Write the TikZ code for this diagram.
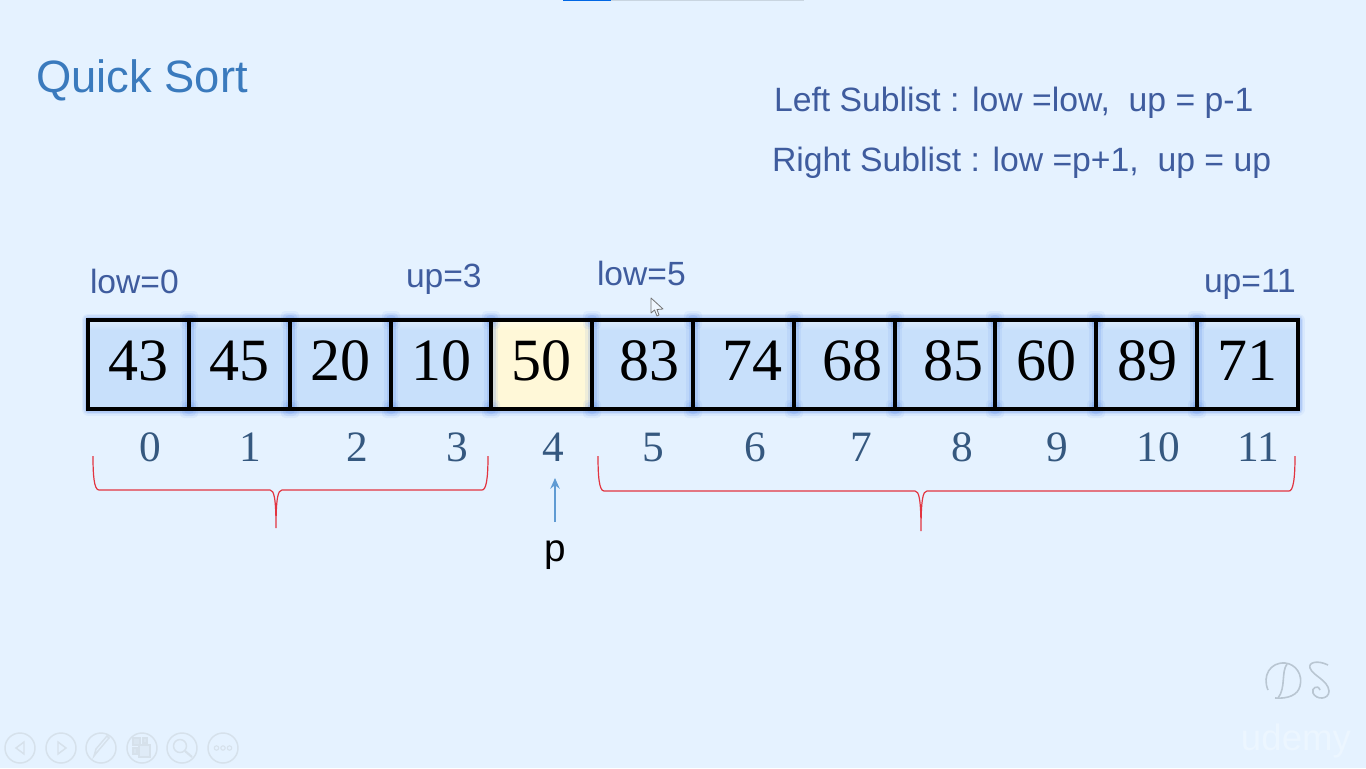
\documentclass[tikz,border=0pt]{standalone}
\usepackage{fontspec}
\usetikzlibrary{arrows.meta}
\setmainfont{Liberation Sans}
\newfontfamily\serifdigits{Liberation Serif}
\definecolor{bgc}{HTML}{E5F2FF}
\definecolor{titlec}{HTML}{3A7ABD}
\definecolor{bluetxt}{HTML}{3F5C9E}
\definecolor{idxc}{HTML}{35587F}
\definecolor{cellc}{HTML}{C8E0FB}
\definecolor{celltop}{HTML}{E0EEFD}
\definecolor{yelc}{HTML}{FFF8D8}
\definecolor{yeltop}{HTML}{FFFCEA}
\definecolor{glowc}{HTML}{3F78E8}
\definecolor{bracec}{HTML}{E23440}
\definecolor{arrowc}{HTML}{5F9BD3}
\definecolor{iconc}{HTML}{D6E1EB}
\definecolor{dsc}{HTML}{B9C6D2}
\definecolor{udc}{HTML}{ECF6FF}
\tikzset{
  x=0.75pt,y=-0.75pt,
  txt/.style={anchor=base west,inner sep=0pt,outer sep=0pt,font=\fontsize{25.3pt}{28pt}\selectfont,text=bluetxt},
  lim/.style={anchor=base west,inner sep=0pt,outer sep=0pt,font=\fontsize{25.2pt}{28pt}\selectfont,text=bluetxt},
  num/.style={anchor=base,inner sep=0pt,outer sep=0pt,font=\serifdigits\fontsize{45pt}{50pt}\selectfont,text=black},
  idx/.style={anchor=base,inner sep=0pt,outer sep=1pt,font=\serifdigits\fontsize{32.5pt}{36pt}\selectfont,text=idxc},
  bracel/.style={draw=bracec,line width=0.9pt},
  icon/.style={draw=iconc,line width=1.1pt},
}
\begin{document}
\begin{tikzpicture}
\useasboundingbox (0,0) rectangle (1366,768);
\fill[bgc] (0,0) rectangle (1366,768);
% progress bar
\fill[black!12!bgc] (611,0) rectangle (804,1);
\fill[blue!55!cyan!90!black] (563,0) rectangle (611,1.2);
% title and text
\node[anchor=base west,inner sep=0pt,font=\fontsize{34pt}{38pt}\selectfont,text=titlec] (title) at (36,92) {Quick Sort};
\node[txt] (ls) at (774,111) {Left Sublist : low =low,\ \ up = p-1};
\node[txt] (rs) at (772,171) {Right Sublist : low =p+1,\ \ up = up};
\node[lim] (l0) at (90,293) {low=0};
\node[lim] (u3) at (406,287) {up=3};
\node[lim] (l5) at (597,285) {low=5};
\node[lim] (u11) at (1204,292) {up=11};
% glow
\foreach \w/\o in {13/.07,10/.10,7/.16,4/.25}{
  \draw[glowc,opacity=\o,line width=\w*0.75pt,line join=round] (88,320) rectangle (1298,409);
}
% cells
\foreach \i/\a/\b in {0/88/189,1/189/290,2/290/391,3/391/491,5/592/693,6/693/794,7/794/895,8/895/995,9/995/1096,10/1096/1197,11/1197/1298}{
  \fill[cellc] (\a,320) rectangle (\b,409);
  \shade[top color=celltop,bottom color=cellc] (\a,320) rectangle (\b,330);
}
\fill[yelc] (491,320) rectangle (592,409);
\shade[top color=yeltop,bottom color=yelc] (491,320) rectangle (592,330);
% vertical glows
\foreach \a in {189,290,391,491,592,693,794,895,995,1096,1197}{
  \fill[glowc,opacity=.08] (\a-7,320) rectangle (\a+7,409);
  \fill[glowc,opacity=.14] (\a-4.5,320) rectangle (\a+4.5,409);
  \foreach \h/\p in {9/.07,7/.09,5/.12}{
    \fill[glowc,opacity=\p,rounded corners=3pt] (\a-\h,320-\h) rectangle (\a+\h,320+\h);
    \fill[glowc,opacity=\p,rounded corners=3pt] (\a-\h,409-\h) rectangle (\a+\h,409+\h);
  }
}
\foreach \i/\a/\b in {0/88/189,1/189/290,2/290/391,3/391/491,4/491/592,5/592/693,6/693/794,7/794/895,8/895/995,9/995/1096,10/1096/1197,11/1197/1298}{
  \draw[black,line width=2.6pt,line join=miter] (\a,320) rectangle (\b,409);
}
% numbers
\foreach \n/\v/\x in {a/43/138,b/45/239,c/20/340,d/10/441,e/50/541,f/83/649,g/74/752,h/68/852,i/85/953,j/60/1046,k/89/1147,m/71/1247}{
  \node[num] (n\n) at (\x,380) {\v};
}
\foreach \v/\x in {0/150,1/250,2/357,3/457,4/553,5/653,6/755,7/861,8/962,9/1057,10/1158,11/1258}{
  \node[idx] (i\v) at (\x,461) {\v};
}
% braces
\draw[bracel] (93,456) .. controls (93,475) and (94,490) .. (99,490) -- (270,490)
  .. controls (274,490) and (276,498) .. (276,528) .. controls (276,498) and (278,490) .. (282,490)
  -- (482,490) .. controls (486,490) and (488,480) .. (488,456);
\draw[bracel] (598,456) .. controls (598,475) and (599,491) .. (604,491) -- (915,491)
  .. controls (919,491) and (921,499) .. (921,531) .. controls (921,499) and (923,491) .. (927,491)
  -- (1289,491) .. controls (1293,491) and (1295,480) .. (1295,456);
% p arrow
\node[anchor=base,inner sep=0pt,outer sep=0pt,font=\fontsize{29pt}{32pt}\selectfont,text=black] (p) at (555.5,561) {p};
\coordinate (ptail) at (555,522);
\coordinate (phead) at (555,478);
\draw[arrowc,line width=2pt,-{Stealth[length=8pt,width=7pt]}] (ptail) -- (phead);
% cursor
\draw[fill=bgc!60!white,draw=black!55,line width=0.6pt,line join=round]
  (651,298) -- (651,313) -- (654.5,310) -- (657,316) -- (659,315) -- (657,309.5) -- (663,309) -- cycle;
% toolbar
\foreach \x in {20,61,101,142,182,223}{\draw[icon] (\x,748) circle (15);}
\draw[icon] (24,742) -- (16,748) -- (24,754) -- cycle;
\draw[icon] (58,742) -- (66,748) -- (58,754) -- cycle;
\draw[icon] (94,756) -- (98,751) -- (109,738) -- (107,736) -- (96,749) -- cycle;
\draw[icon,fill=iconc!70!bgc] (133,738) rectangle (140,745);
\draw[icon,fill=iconc!70!bgc] (143,738) rectangle (147,743);
\draw[icon,fill=iconc!70!bgc] (133,748) rectangle (137,754);
\draw[icon,fill=iconc!40!bgc] (139,745) rectangle (150,757);
\draw[icon] (180,746) circle (6.5);
\draw[icon,line width=1.6pt] (185,751) -- (192,757);
\foreach \x in {216.5,223,229.5}{\draw[icon,line width=0.8pt] (\x,748) circle (2.2);}
% DS monogram
\begin{scope}[dsc,line width=1.2pt]
\draw (1268,690) .. controls (1262,676) and (1270,662) .. (1285,663) .. controls (1296,664) and (1303,675) .. (1300,686) .. controls (1298,695) and (1288,699) .. (1275,698);
\draw (1287,664) .. controls (1281,672) and (1286,688) .. (1278,698);
\draw (1328,665) .. controls (1318,660) and (1308,662) .. (1310,668) .. controls (1313,676) and (1328,680) .. (1329,691) .. controls (1329,700) and (1316,700) .. (1313,693) .. controls (1311,688) and (1318,684) .. (1320,690);
\end{scope}
\node[anchor=base,inner sep=0pt,outer sep=0pt,font=\fontsize{27.5pt}{30pt}\selectfont,text=udc] (ud) at (1296,750) {udemy};
\end{tikzpicture}
\end{document}
